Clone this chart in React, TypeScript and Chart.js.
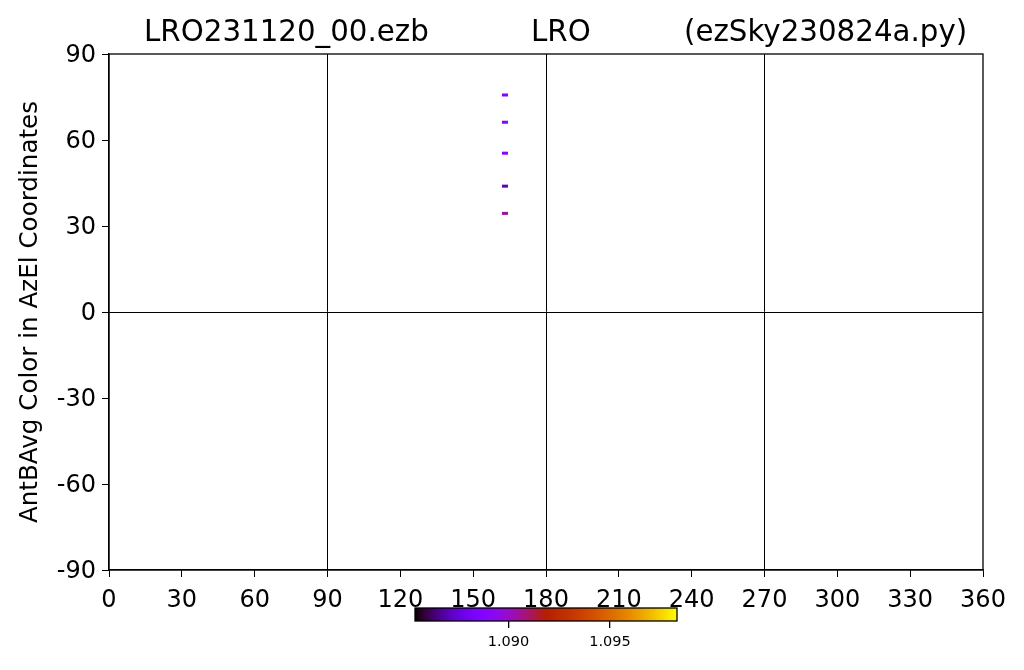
import React, { useEffect, useRef } from "react";
import { Chart, registerables } from "chart.js";

Chart.register(...registerables);

// ---- data ----
const titleParts = ["LRO231120_00.ezb", "LRO", "(ezSky230824a.py)"];
const yAxisTitle = "AntBAvg Color in AzEl Coordinates";
const azimuths = [163.1, 163.1, 163.1, 163.1, 163.1];
const elevations = [75.7, 66.2, 55.4, 43.9, 34.4];
const antBAvgValues = [1.0886, 1.0887, 1.0889, 1.0871, 1.0905];
const xTicks = [0, 30, 60, 90, 120, 150, 180, 210, 240, 270, 300, 330, 360];
const yTicks = [-90, -60, -30, 0, 30, 60, 90];
const colorbarMin = 1.0854;
const colorbarMax = 1.0983;
const colorbarTicks = [1.09, 1.095];

const FONT = "'DejaVu Sans', sans-serif";

function gnuplot(t: number): string {
  const c = Math.max(0, Math.min(1, t));
  const r = Math.sqrt(c);
  const g = c * c * c;
  const b = Math.max(0, Math.min(1, Math.sin(2 * Math.PI * c)));
  return `rgb(${Math.round(r * 255)},${Math.round(g * 255)},${Math.round(b * 255)})`;
}
function valueColor(v: number): string {
  return gnuplot((v - colorbarMin) / (colorbarMax - colorbarMin));
}

const framePlugin = {
  id: "frame",
  afterDraw(chart: any) {
    const { ctx, chartArea } = chart;
    ctx.save();
    ctx.strokeStyle = "#000";
    ctx.lineWidth = 1.3;
    ctx.strokeRect(chartArea.left, chartArea.top, chartArea.right - chartArea.left, chartArea.bottom - chartArea.top);
    ctx.restore();
  },
};

const titlePlugin = {
  id: "titleParts",
  afterDraw(chart: any) {
    const { ctx } = chart;
    ctx.save();
    ctx.fillStyle = "#000";
    ctx.font = `29.3px ${FONT}`;
    ctx.textBaseline = "alphabetic";
    ctx.textAlign = "left";
    const xs = [144, 531, 684];
    titleParts.forEach((t, i) => ctx.fillText(t, xs[i], 41));
    ctx.restore();
  },
};

const gradientPlugin = {
  id: "cbarGradient",
  beforeDatasetsDraw(chart: any) {
    const { ctx, chartArea } = chart;
    const { left, right, top, bottom } = chartArea;
    const grad = ctx.createLinearGradient(left, 0, right, 0);
    for (let i = 0; i <= 64; i++) grad.addColorStop(i / 64, gnuplot(i / 64));
    ctx.save();
    ctx.fillStyle = grad;
    ctx.fillRect(left, top, right - left, bottom - top);
    ctx.strokeStyle = "#000";
    ctx.lineWidth = 1.3;
    ctx.strokeRect(left, top, right - left, bottom - top);
    ctx.restore();
  },
};

export default function App() {
  const mainRef = useRef<HTMLCanvasElement>(null);
  const cbarRef = useRef<HTMLCanvasElement>(null);

  useEffect(() => {
    const points = azimuths.map((x, i) => ({ x, y: elevations[i] }));
    const colors = antBAvgValues.map(valueColor);
    const main = new Chart(mainRef.current!, {
      type: "scatter",
      data: {
        datasets: [
          {
            data: points,
            pointStyle: "line",
            pointRadius: 3,
            pointBorderWidth: 3,
            pointBorderColor: colors,
            pointBackgroundColor: colors,
            borderColor: colors,
          } as any,
        ],
      },
      options: {
        responsive: false,
        animation: false,
        devicePixelRatio: 1,
        layout: { padding: { top: 54, right: 41, left: 0, bottom: 0 } },
        plugins: { legend: { display: false }, tooltip: { enabled: false }, title: { display: false } },
        scales: {
          x: {
            type: "linear",
            min: 0,
            max: 360,
            afterBuildTicks: (s: any) => {
              s.ticks = xTicks.map((v) => ({ value: v }));
            },
            afterFit: (s: any) => {
              s.height = 100;
            },
            ticks: { font: { family: FONT, size: 24 }, color: "#000", padding: 9, maxRotation: 0, autoSkip: false },
            grid: {
              color: (c: any) => (c.tick && [90, 180, 270].includes(c.tick.value) ? "#000" : "rgba(0,0,0,0)"),
              tickColor: "#000",
              tickLength: 7,
              lineWidth: 1,
            },
            border: { display: true, color: "#000", width: 1.3 },
          },
          y: {
            type: "linear",
            min: -90,
            max: 90,
            afterBuildTicks: (s: any) => {
              s.ticks = yTicks.map((v) => ({ value: v }));
            },
            afterFit: (s: any) => {
              s.width = 109;
            },
            ticks: { font: { family: FONT, size: 24 }, color: "#000", padding: 6, labelOffset: 2 },
            grid: {
              color: (c: any) => (c.tick && c.tick.value === 0 ? "#000" : "rgba(0,0,0,0)"),
              tickColor: "#000",
              tickLength: 7,
              lineWidth: 1,
            },
            border: { display: true, color: "#000", width: 1.3 },
            title: {
              display: true,
              text: yAxisTitle,
              font: { family: FONT, size: 24.6 },
              color: "#000",
              padding: { top: 16, bottom: 0 },
            },
          },
        },
      },
      plugins: [framePlugin, titlePlugin],
    });

    const cbar = new Chart(cbarRef.current!, {
      type: "scatter",
      data: { datasets: [{ data: [] }] },
      options: {
        responsive: false,
        animation: false,
        devicePixelRatio: 1,
        layout: { padding: { top: 8, right: 43, left: 35, bottom: 0 } },
        plugins: { legend: { display: false }, tooltip: { enabled: false } },
        scales: {
          x: {
            type: "linear",
            min: colorbarMin,
            max: colorbarMax,
            afterBuildTicks: (s: any) => {
              s.ticks = colorbarTicks.map((v) => ({ value: v }));
            },
            afterFit: (s: any) => {
              s.height = 39;
            },
            ticks: {
              font: { family: FONT, size: 14.5 },
              color: "#000",
              padding: 6,
              maxRotation: 0,
              autoSkip: false,
              callback: (v: any) => Number(v).toFixed(3),
            },
            grid: { drawOnChartArea: false, tickColor: "#000", tickLength: 7, lineWidth: 1.3 },
            border: { display: false },
          },
          y: { display: false, min: 0, max: 1 },
        },
      },
      plugins: [gradientPlugin],
    });

    return () => {
      main.destroy();
      cbar.destroy();
    };
  }, []);

  return (
    <div style={{ position: "absolute", left: 0, top: 0, width: 1024, height: 670, background: "#fff" }}>
      <canvas ref={mainRef} width={1024} height={670} style={{ position: "absolute", left: 0, top: 0 }} />
      <canvas ref={cbarRef} width={340} height={60} style={{ position: "absolute", left: 380, top: 600 }} />
    </div>
  );
}
